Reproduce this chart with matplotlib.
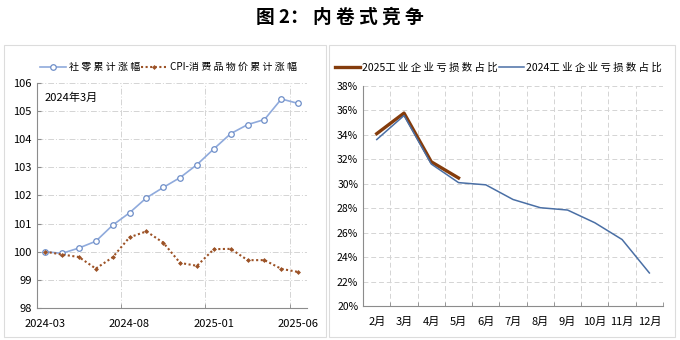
import matplotlib
matplotlib.use("Agg")
import matplotlib.pyplot as plt
from matplotlib.patches import Rectangle
from matplotlib.ticker import FixedLocator

plt.rcParams['font.family'] = ['Noto Sans CJK SC', 'DejaVu Sans']

# Left panel data
months_left = ["2024-03", "2024-04", "2024-05", "2024-06", "2024-07", "2024-08",
               "2024-09", "2024-10", "2024-11", "2024-12", "2025-01", "2025-02",
               "2025-03", "2025-04", "2025-05", "2025-06"]
retail = [100.0, 99.94, 100.13, 100.37, 100.94, 101.38, 101.91, 102.28,
          102.63, 103.09, 103.65, 104.19, 104.51, 104.69, 105.42, 105.26]
cpi = [100.0, 99.90, 99.81, 99.40, 99.80, 100.51, 100.72, 100.32,
       99.60, 99.50, 100.09, 100.10, 99.70, 99.70, 99.39, 99.28]

# Right panel data
months_right = ["2月", "3月", "4月", "5月", "6月", "7月", "8月", "9月", "10月", "11月", "12月"]
loss_2025 = [34.08, 35.76, 31.78, 30.46]
loss_2024 = [33.6, 35.56, 31.6, 30.08, 29.9, 28.7, 28.03, 27.84, 26.8, 25.43, 22.7]

grid_color = "#d4d4d4"
axis_color = "#8c8c8c"


def spaced(s):
    # the source font sets CJK characters with wide gaps
    out = ""
    for i, ch in enumerate(s):
        out += ch
        if i < len(s) - 1 and (ord(ch) > 0x2E80 or ord(s[i + 1]) > 0x2E80):
            out += " "
    return out


fig = plt.figure(figsize=(6.8, 3.4), dpi=100)

# Panel frames
for x0, x1 in [(4, 326), (329, 675)]:
    fig.patches.append(Rectangle((x0 / 680, 3 / 340), (x1 - x0) / 680, (295 - 3) / 340,
                                 transform=fig.transFigure, fill=False,
                                 edgecolor="#dcdcdc", linewidth=0.8))

fig.text(0.5, 0.948, "图 2： 内 卷 式 竞 争", ha="center", va="center",
         fontsize=13.5, fontweight="bold")

# ---- Left panel
ax1 = fig.add_axes([0.054, 0.094, 0.397, 0.663])
x = list(range(len(months_left)))
ax1.plot(x, retail, color="#8FAADC", linewidth=1.2, marker="o", markersize=4,
         markerfacecolor="white", markeredgecolor="#6E8EC8", markeredgewidth=0.9,
         label=spaced("社零累计涨幅"))
ax1.plot(x, cpi, color="#9C5226", linewidth=1.5, linestyle=(0, (1, 1.2)),
         marker="D", markersize=2.5, markeredgewidth=0,
         label="CPI-" + spaced("消费品物价累计涨幅"))
ax1.set_xlim(-0.5, len(months_left) - 0.5)
ax1.set_ylim(98, 106)
ax1.set_yticks(range(98, 107))
ax1.set_xticks([0, 5, 10, 15])
ax1.set_xticklabels([months_left[i] for i in [0, 5, 10, 15]])
ax1.xaxis.set_minor_locator(FixedLocator([4.5, 9.5, 14.5]))
ax1.tick_params(axis="x", which="major", length=0, labelsize=8, pad=8)
ax1.tick_params(axis="x", which="minor", length=3, direction="in", color=axis_color)
ax1.tick_params(axis="y", length=3, direction="in", labelsize=8, color=axis_color)
ax1.grid(axis="y", color=grid_color, linestyle=(0, (6, 2, 1, 2)), linewidth=0.7)
ax1.grid(axis="x", which="minor", color=grid_color, linestyle=(0, (6, 2, 1, 2)), linewidth=0.7)
for s in ["top", "right"]:
    ax1.spines[s].set_visible(False)
for s in ["left", "bottom"]:
    ax1.spines[s].set_color(axis_color)
ax1.text(0.03, 0.955, "2024年3月", transform=ax1.transAxes, fontsize=8, va="top")
ax1.legend(loc="lower left", bbox_to_anchor=(-0.01, 1.02), ncol=2, frameon=False,
           fontsize=7.2, handlelength=2.6, columnspacing=0.1, handletextpad=0.3,
           borderaxespad=0.2)

# ---- Right panel
ax2 = fig.add_axes([0.534, 0.1, 0.441, 0.648])
ax2.plot(range(len(loss_2025)), loss_2025, color="#843C0C", linewidth=2.4,
         label="2025" + spaced("工业企业亏损数占比"))
ax2.plot(range(len(loss_2024)), loss_2024, color="#4A6FA5", linewidth=1.1,
         label="2024" + spaced("工业企业亏损数占比"))
ax2.set_xlim(-0.5, len(months_right) - 0.5)
ax2.set_ylim(20, 38)
ax2.set_yticks(range(20, 39, 2))
ax2.set_yticklabels([f"{v}%" for v in range(20, 39, 2)])
ax2.set_xticks(range(len(months_right)))
ax2.set_xticklabels(months_right)
bounds = [i + 0.5 for i in range(-1, len(months_right))]
ax2.xaxis.set_minor_locator(FixedLocator(bounds))
ax2.tick_params(axis="x", which="major", length=0, labelsize=8, pad=8)
ax2.tick_params(axis="x", which="minor", length=3, direction="in", color=axis_color)
ax2.tick_params(axis="y", length=0, labelsize=7.5)
ax2.grid(axis="y", color=grid_color, linestyle=(0, (5, 3)), linewidth=0.7)
ax2.grid(axis="x", which="minor", color=grid_color, linestyle=(0, (5, 3)), linewidth=0.7)
for s in ["left", "bottom"]:
    ax2.spines[s].set_color(axis_color)
ax2.spines["top"].set_visible(False)
ax2.spines["right"].set_visible(False)
ax2.legend(loc="lower left", bbox_to_anchor=(-0.115, 1.03), ncol=2, frameon=False,
           fontsize=7.5, handlelength=2.4, columnspacing=0.1, handletextpad=0.2,
           borderaxespad=0.2)

fig.savefig("out.png", dpi=100)
